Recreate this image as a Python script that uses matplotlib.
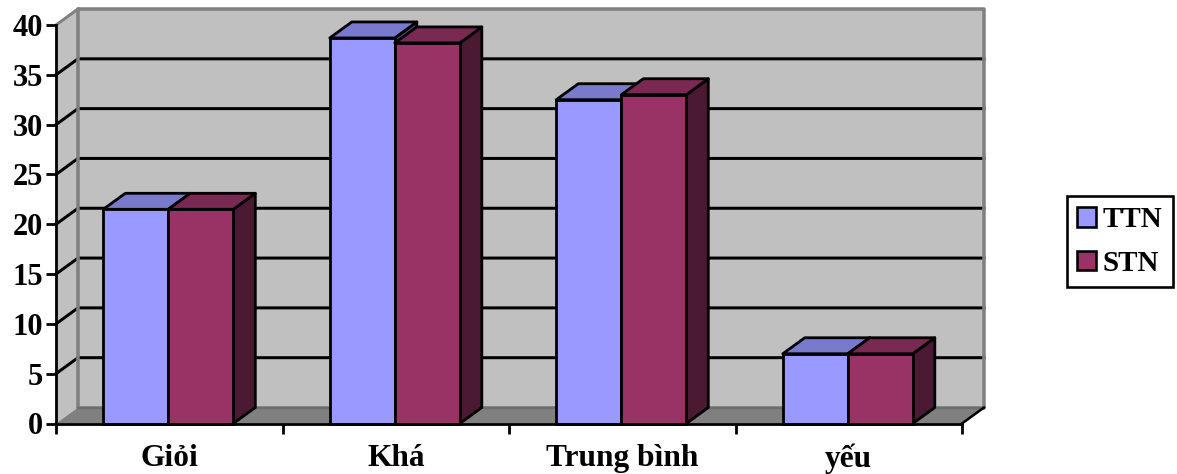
import matplotlib
matplotlib.use("Agg")
import matplotlib.pyplot as plt
from matplotlib.patches import Polygon, Patch

categories = ["Giỏi", "Khá", "Trung bình", "yếu"]
ttn = [21.5, 38.7, 32.5, 7.0]
stn = [21.5, 38.2, 33.0, 7.0]
y_ticks = [0, 5, 10, 15, 20, 25, 30, 35, 40]

TTN_COLORS = ("#9999FF", "#7A7ACC", "#4C4C80")
STN_COLORS = ("#993366", "#7A2952", "#4C1933")
WALL = "#C0C0C0"
FLOOR = "#808080"

W, H = 1177, 474
px = 1 / 100 * 72  # one pixel in points at 100 dpi

plt.rcParams["font.family"] = ["Liberation Serif", "DejaVu Serif"]
plt.rcParams["font.weight"] = "bold"

fig = plt.figure(figsize=(W / 100, H / 100), dpi=100)
left, right, bottom, top = 56, 962, 423.5, 25
ax = fig.add_axes([left / W, 1 - bottom / H, (right - left) / W, (bottom - top) / H])
ax.set_xlim(0, len(categories))
ax.set_ylim(0, 40)
ax.patch.set_visible(False)

# Oblique depth of the 3D box, in data units
dx = 22 / ((right - left) / len(categories))
dy = 16 / ((bottom - top) / 40)
n = len(categories)


def poly(points, fc, ec, lw=2.2, z=1):
    ax.add_patch(Polygon(points, closed=True, facecolor=fc, edgecolor=ec,
                         linewidth=lw * px, zorder=z, clip_on=False,
                         joinstyle="round"))


# Walls and floor
poly([(dx, dy), (n + dx, dy), (n + dx, 40 + dy), (dx, 40 + dy)], WALL, "none", 0, 1)
poly([(0, 0), (dx, dy), (dx, 40 + dy), (0, 40)], WALL, "none", 0, 1)

# Gridlines run along the back wall and down the side wall
for v in y_ticks[1:-1]:
    ax.plot([0, dx, n + dx], [v, v + dy, v + dy], color="black",
            lw=3.0 * px, zorder=1.5, clip_on=False, solid_joinstyle="miter")

# Wall outlines sit over the gridlines
poly([(dx, dy), (n + dx, dy), (n + dx, 40 + dy), (dx, 40 + dy)], "none", FLOOR, 3.5, 1.7)
ax.plot([0, dx], [40, 40 + dy], color=FLOOR, lw=3 * px, zorder=1.7, clip_on=False)

poly([(0, 0), (n, 0), (n + dx, dy), (dx, dy)], FLOOR, "none", 0, 2)
ax.plot([n, n + dx], [0, dy], color="black", lw=2.5 * px, zorder=2.5, clip_on=False)
ax.plot([dx, n + dx], [dy, dy], color="#6E6E6E", lw=2.5 * px, zorder=2.2, clip_on=False)

# Bars with oblique top and side faces
bar_w = 65 / ((right - left) / n)
offset = 47.3 / ((right - left) / n)
for i in range(n):
    for j, (values, colors) in enumerate(((ttn, TTN_COLORS), (stn, STN_COLORS))):
        x0 = i + offset + j * bar_w
        x1 = x0 + bar_w
        v = values[i]
        z = 3 + j + i * 3
        poly([(x1, 0), (x1 + dx, dy), (x1 + dx, v + dy), (x1, v)], colors[2], "black", 2.8, z)
        poly([(x0, v), (x1, v), (x1 + dx, v + dy), (x0 + dx, v + dy)], colors[1], "black", 2.8, z)
        ax.bar(x0, v, width=bar_w, align="edge", facecolor=colors[0],
               edgecolor="black", linewidth=2.8 * px, zorder=z + 0.5, clip_on=False)

# Axes
for side in ("top", "right"):
    ax.spines[side].set_visible(False)
for side in ("left", "bottom"):
    ax.spines[side].set_linewidth(2.8 * px)
    ax.spines[side].set_zorder(40)
ax.set_yticks(y_ticks)
ax.set_xticks(range(n + 1))
ax.set_xticklabels([])
ax.set_xticks([i + 0.5 for i in range(n)], labels=categories, minor=True)
ax.tick_params(axis="y", length=10 * 0.72, width=2.8 * px, pad=2, labelsize=22)
ax.tick_params(axis="x", which="major", length=10 * 0.72, width=2.8 * px)
ax.tick_params(axis="x", which="minor", length=0, pad=14.5, labelsize=22.6)
ax.set_axisbelow(False)

# Legend
handles = [Patch(facecolor=TTN_COLORS[0], edgecolor="black", linewidth=2.6 * px, label="TTN"),
           Patch(facecolor=STN_COLORS[0], edgecolor="black", linewidth=2.6 * px, label="STN")]
leg = fig.legend(handles=handles, loc="center left",
                 bbox_to_anchor=(1067 / W, 1 - 241.5 / H), fontsize=21,
                 fancybox=False, framealpha=1, edgecolor="black",
                 handlelength=0.65, handleheight=0.65, handletextpad=0.24,
                 labelspacing=0.56, borderpad=0.34, borderaxespad=0)
leg.get_frame().set_linewidth(2.6 * px)

fig.savefig("out.png", dpi=100, facecolor="white")
